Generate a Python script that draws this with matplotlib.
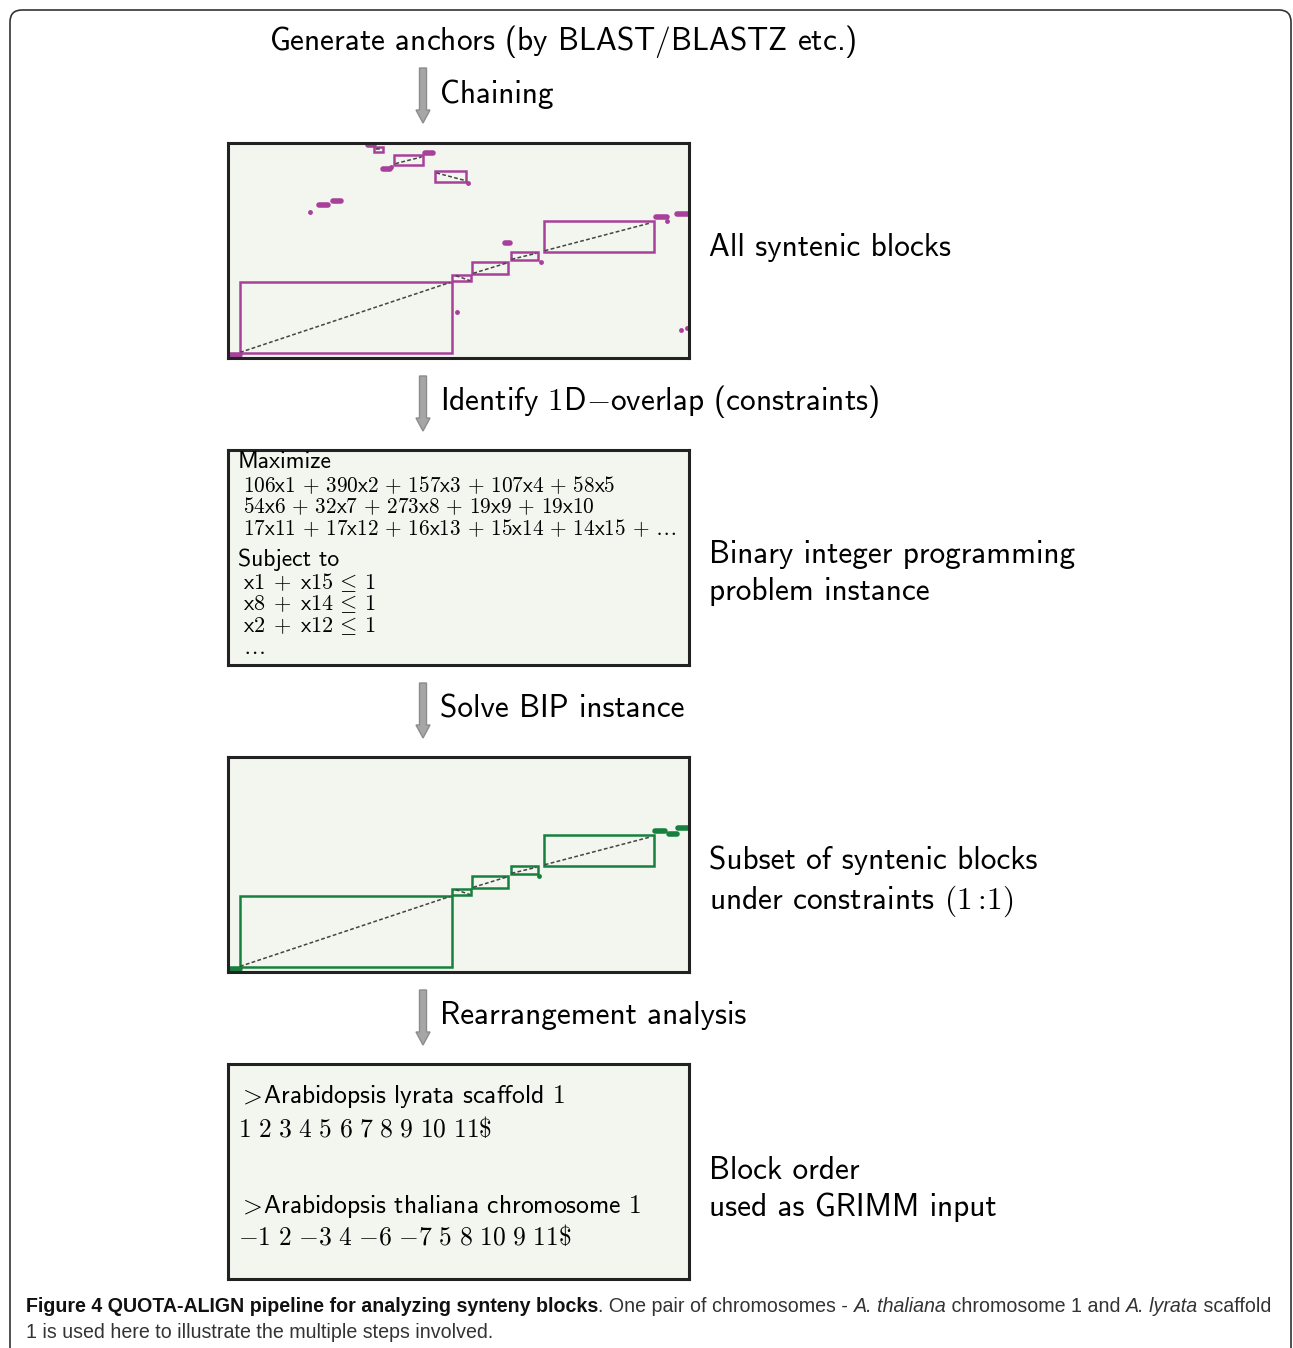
import os
import matplotlib
matplotlib.use("Agg")
import matplotlib.pyplot as plt
from matplotlib.font_manager import FontProperties
from matplotlib.patches import Rectangle, FancyArrow, FancyBboxPatch

plt.rcParams['mathtext.fontset'] = 'cm'

# chained syntenic blocks, coordinates in % of chromosome length
block_x0 = [2.6, 48.5, 53.0, 61.3, 68.6, 36.0, 44.9, 31.6]
block_x1 = [48.6, 52.8, 60.8, 67.2, 92.3, 42.2, 51.7, 33.6]
block_y0 = [2.5, 35.7, 39.1, 45.4, 49.5, 89.6, 81.8, 95.8]
block_y1 = [35.5, 38.6, 44.5, 49.1, 63.7, 94.3, 87.2, 98.1]
# anchor chain inside each block (start / end)
chain_x0 = [2.6, 49.4, 53.2, 61.5, 68.7, 36.3, 45.2, 32.0]
chain_y0 = [2.6, 38.3, 39.4, 45.9, 49.9, 90.4, 86.1, 97.0]
chain_x1 = [48.1, 52.5, 60.8, 66.9, 91.8, 42.0, 51.7, 33.2]
chain_y1 = [35.1, 36.0, 44.4, 48.7, 62.9, 93.5, 82.4, 97.0]
kept_blocks = [0, 1, 2, 3, 4]   # solution of the BIP (1:1)

# small unchained anchor clusters
all_blob_x0 = [30.4, 42.7, 33.7, 19.7, 22.7, 92.9, 97.5, 60.0, 0.3]
all_blob_x1 = [31.6, 44.5, 35.1, 21.6, 24.6, 95.3, 99.8, 61.1, 2.5]
all_blob_y = [98.9, 95.3, 88.0, 71.0, 73.2, 65.8, 67.0, 53.5, 1.4]
all_dot_x = [17.8, 95.2, 68.0, 49.7, 52.1, 98.2, 99.5, 35.3]
all_dot_y = [67.9, 63.6, 44.6, 21.2, 81.5, 13.2, 13.9, 89.0]
kept_blob_x0 = [92.6, 95.6, 97.7, 0.3]
kept_blob_x1 = [94.9, 97.3, 99.8, 2.5]
kept_blob_y = [65.6, 64.2, 67.1, 1.3]
kept_dot_x = [67.5]
kept_dot_y = [44.5]

steps = ["Chaining", "Identify $1$D$-$overlap (constraints)",
         "Solve BIP instance", "Rearrangement analysis"]
panel_labels = ["All syntenic blocks",
                "Binary integer programming\nproblem instance",
                "Subset of syntenic blocks\nunder constraints $(1:\\!1)$",
                "Block order\nused as GRIMM input"]
objective = [r"$106\mathsf{x}1\,+\,390\mathsf{x}2\,+\,157\mathsf{x}3\,+\,107\mathsf{x}4\,+\,58\mathsf{x}5$",
             r"$54\mathsf{x}6\,+\,32\mathsf{x}7\,+\,273\mathsf{x}8\,+\,19\mathsf{x}9\,+\,19\mathsf{x}10$",
             r"$17\mathsf{x}11\,+\,17\mathsf{x}12\,+\,16\mathsf{x}13\,+\,15\mathsf{x}14\,+\,14\mathsf{x}15\,+\,\ldots$"]
constraints = [r"$\mathsf{x}1\;+\;\mathsf{x}15\,\leq\,1$",
               r"$\mathsf{x}8\;+\;\mathsf{x}14\,\leq\,1$",
               r"$\mathsf{x}2\;+\;\mathsf{x}12\,\leq\,1$",
               r"$\ldots$"]
lyrata_order = r"$1\ 2\ 3\ 4\ 5\ 6\ 7\ 8\ 9\ 10\ 11\$$"
thaliana_order = r"$-1\ 2\ {-3}\ 4\ {-6}\ {-7}\ 5\ 8\ 10\ 9\ 11\$$"

W, H = 1293, 1348
MAGENTA = '#a8409b'
GREEN = '#17803f'
BG = '#f2f6ee'
cmss = FontProperties(fname=os.path.join(matplotlib.get_data_path(), 'fonts', 'ttf', 'cmss10.ttf'))

def fp(size):
    f = cmss.copy()
    f.set_size(size)
    return f

fig = plt.figure(figsize=(W / 100, H / 100), dpi=100)
ax = fig.add_axes([0, 0, 1, 1])
ax.set_xlim(0, W)
ax.set_ylim(H, 0)
ax.axis('off')

ax.add_patch(FancyBboxPatch((10, 10), 1281, 1400, boxstyle='round,pad=0,rounding_size=12',
                            fc='none', ec='#333333', lw=1.2))

panels = [(228, 143, 689, 358), (228, 450, 689, 665), (228, 757, 689, 972), (228, 1064, 689, 1279)]
pax = []
for x0, y0, x1, y1 in panels:
    a = fig.add_axes([x0 / W, 1 - y1 / H, (x1 - x0) / W, (y1 - y0) / H])
    a.set_facecolor(BG)
    a.set_xlim(0, 100)
    a.set_ylim(0, 100)
    a.set_xticks([])
    a.set_yticks([])
    for s in a.spines.values():
        s.set_linewidth(2.2)
        s.set_color('#222222')
    pax.append(a)

def dotplot(a, idx, color, bx0, bx1, by, dx, dy):
    for i in idx:
        a.add_patch(Rectangle((block_x0[i], block_y0[i]), block_x1[i] - block_x0[i],
                              block_y1[i] - block_y0[i], fill=False, ec=color, lw=1.8))
        a.plot([chain_x0[i], chain_x1[i]], [chain_y0[i], chain_y1[i]], color='#444444',
               lw=1.1, dashes=(2.5, 1.5))
    for u, v, w in zip(bx0, bx1, by):
        a.plot([u, v], [w, w], color=color, lw=4, solid_capstyle='round')
    a.plot(dx, dy, 'o', color=color, ms=3.5, mec='none')

dotplot(pax[0], range(len(block_x0)), MAGENTA, all_blob_x0, all_blob_x1, all_blob_y, all_dot_x, all_dot_y)
dotplot(pax[2], kept_blocks, GREEN, kept_blob_x0, kept_blob_x1, kept_blob_y, kept_dot_x, kept_dot_y)

# BIP instance
a = pax[1]
a.text(238, 462, "Maximize", fontproperties=fp(17), va='center', transform=ax.transData)
for k, s in enumerate(objective):
    a.text(243, 485 + 21.5 * k, s, fontsize=15.3, va='center', transform=ax.transData)
a.text(238, 560, "Subject to", fontproperties=fp(17), va='center', transform=ax.transData)
for k, s in enumerate(constraints):
    a.text(243, 582 + 22 * k, s, fontsize=16, va='center', transform=ax.transData)

# GRIMM input
a = pax[3]
a.text(242, 1097, r"$\!>\!$Arabidopsis lyrata scaffold $1$", fontproperties=fp(18.4), va='center', transform=ax.transData)
a.text(238, 1130, lyrata_order, fontsize=18.4, va='center', transform=ax.transData)
a.text(242, 1207, r"$\!>\!$Arabidopsis thaliana chromosome $1$", fontproperties=fp(18.4), va='center', transform=ax.transData)
a.text(238, 1238, thaliana_order, fontsize=18.4, va='center', transform=ax.transData)

# steps and arrows
ax.text(563, 41, "Generate anchors (by BLAST$/$BLASTZ etc.)", fontproperties=fp(22.5), ha='center', va='center')
arrow_top = [68, 376, 683, 990]
for y, s in zip(arrow_top, steps):
    ax.add_patch(FancyArrow(423, y, 0, 55, width=7, head_width=14, head_length=13,
                            length_includes_head=True, fc='#a6a6a6', ec='#8c8c8c', lw=1))
    ax.text(440, y + 26, s, fontproperties=fp(22.5), va='center')

label_y = [247, 573, 882, 1189]
for y, s in zip(label_y, panel_labels):
    ax.text(709, y, s, fontproperties=fp(22.5), va='center', linespacing=1.33)

# caption, sized so the first line spans the frame width
r = fig.canvas.get_renderer()
fam = ['Liberation Sans', 'DejaVu Sans']
parts = [("Figure 4 QUOTA-ALIGN pipeline for analyzing synteny blocks", 'bold', 'normal', '#111111'),
         (". One pair of chromosomes - ", 'normal', 'normal', '#333333'),
         ("A. thaliana", 'normal', 'italic', '#333333'),
         (" chromosome 1 and ", 'normal', 'normal', '#333333'),
         ("A. lyrata", 'normal', 'italic', '#333333'),
         (" scaffold", 'normal', 'normal', '#333333')]
caps = [ax.text(0, 1306, s, family=fam, fontweight=wgt, fontstyle=sty, fontsize=14,
                color=c, va='center') for s, wgt, sty, c in parts]
total = sum(t.get_window_extent(renderer=r).width for t in caps)
size = 14 * 1252 / total
x = 26
for t in caps:
    t.set_fontsize(size)
    t.set_x(x)
    x += t.get_window_extent(renderer=r).width
ax.text(26, 1333, "1 is used here to illustrate the multiple steps involved.", family=fam,
        fontsize=size, color='#333333', va='center')

fig.savefig('out.png', dpi=100, facecolor='white')
